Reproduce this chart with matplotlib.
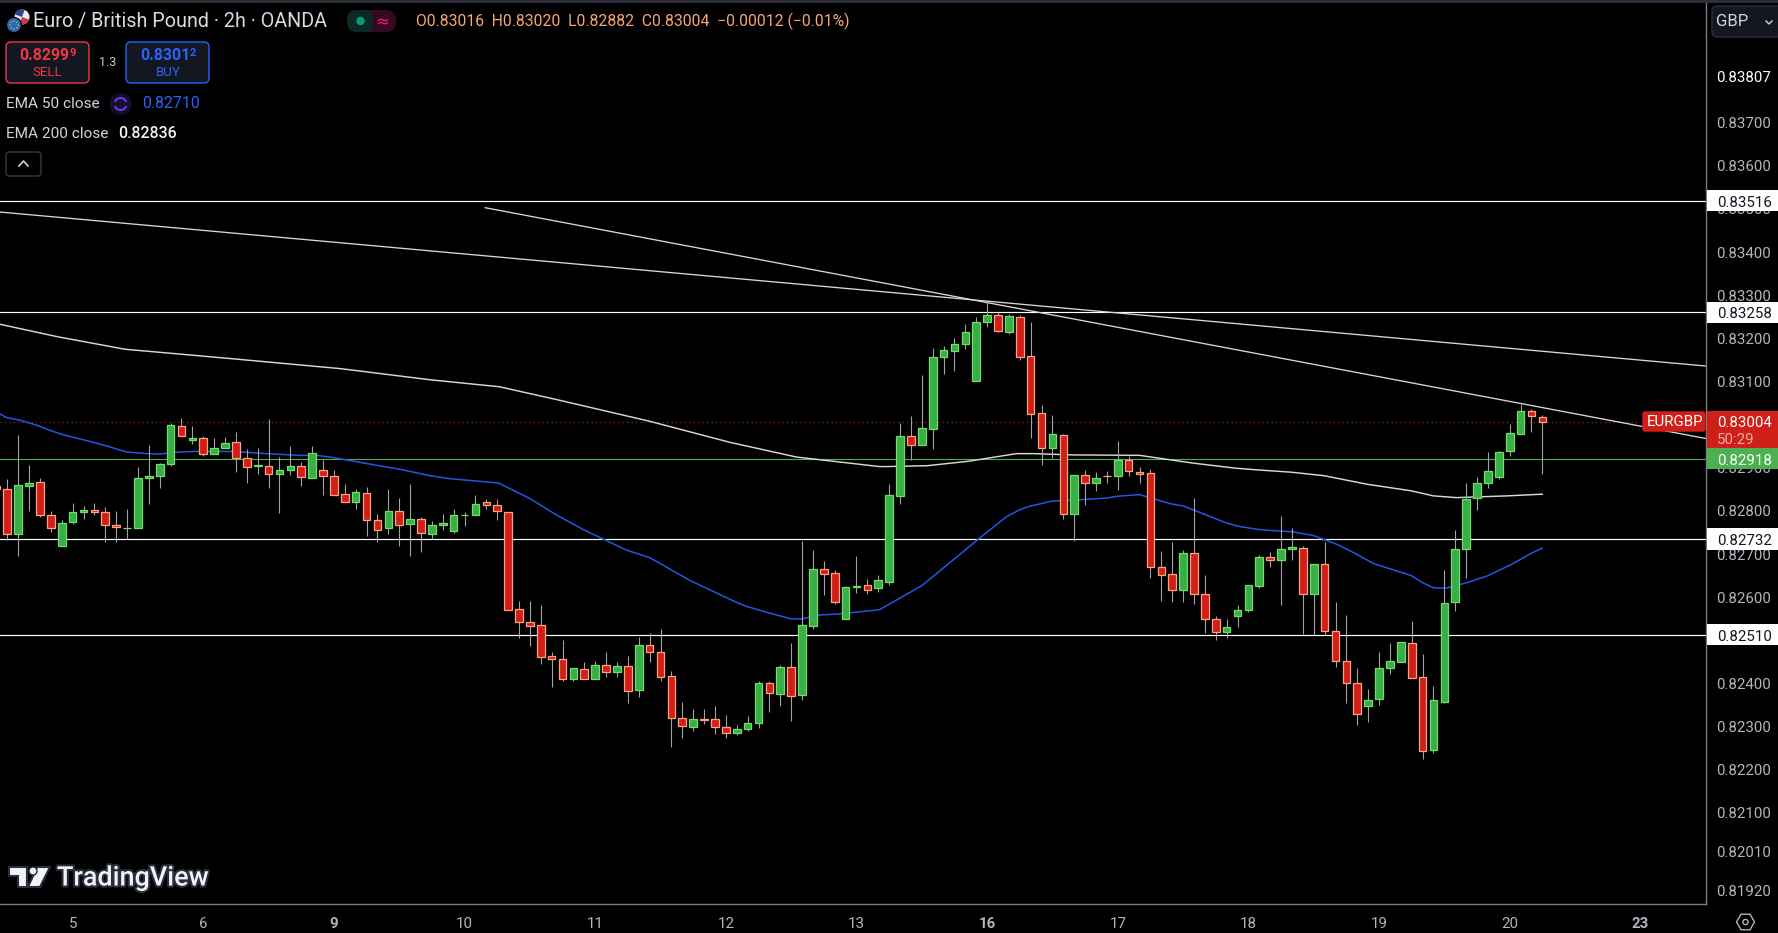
import numpy as np
import matplotlib
matplotlib.use("Agg")
import matplotlib.pyplot as plt
from matplotlib.patches import Rectangle, FancyBboxPatch, Circle, Polygon, RegularPolygon, Wedge
from matplotlib.transforms import ScaledTranslation
import matplotlib.patheffects as pe

plt.rcParams['font.family'] = ['Roboto', 'DejaVu Sans']

# 2h candles, prices in 1/100000, first one is cut off by the left edge
opens = [82855,
    82848,82743,82856,82864,82788,82717,82771,82794,82799,82795,
    82764,82757,82757,82873,82877,82905,82994,82961,82966,82928,
    82944,82957,82919,82902,82901,82882,82891,82901,82873,82892,
    82878,82836,82819,82839,82776,82757,82797,82766,82778,82743,
    82764,82750,82787,82787,82818,82812,82795,82570,82540,82533,
    82461,82454,82407,82431,82407,82440,82423,82438,82382,82487,
    82470,82415,82317,82296,82315,82315,82297,82282,82291,82305,
    82398,82372,82436,82370,82530,82663,82653,82546,82620,82625,
    82618,82632,82831,82971,82949,82988,83153,83169,83183,83099,
    83234,83251,83213,83246,83156,83024,82944,82973,82791,82880,
    82861,82879,82877,82915,82887,82885,82667,82651,82615,82700,
    82605,82547,82516,82553,82567,82622,82690,82683,82708,82711,
    82604,82674,82519,82449,82398,82344,82361,82432,82446,82491,
    82412,82243,82354,82585,82710,82826,82861,82875,82935,82975,
    83028,83016]
highs = [82855,
    82872,82974,82904,82873,82798,82777,82816,82809,82816,82807,
    82798,82802,82900,82950,82908,83001,83013,82994,82971,82967,
    82969,82981,82941,82944,83011,82923,82948,82911,82948,82916,
    82893,82860,82849,82852,82791,82849,82828,82860,82784,82774,
    82791,82802,82795,82835,82825,82825,82795,82589,82589,82578,
    82471,82497,82433,82448,82450,82469,82446,82462,82506,82515,
    82524,82427,82355,82337,82337,82346,82323,82300,82321,82404,
    82404,82441,82492,82728,82707,82682,82661,82624,82693,82640,
    82649,82860,83001,83018,83113,83174,83180,83198,83231,83246,
    83282,83258,83254,83252,83235,83043,83020,82976,82880,82893,
    82888,82890,82960,82925,82900,82895,82705,82726,82707,82828,
    82649,82554,82547,82578,82626,82696,82703,82786,82758,82717,
    82674,82724,82585,82557,82434,82385,82471,82490,82493,82541,
    82466,82392,82661,82754,82862,82876,82934,82937,82999,83045,
    83033,83020]
lows = [82847,
    82730,82692,82798,82784,82749,82717,82768,82779,82788,82726,
    82726,82732,82757,82814,82851,82902,82970,82953,82925,82928,
    82944,82888,82862,82883,82851,82793,82881,82856,82873,82835,
    82835,82817,82802,82740,82726,82744,82717,82693,82703,82732,
    82754,82747,82763,82787,82802,82777,82567,82503,82485,82443,
    82390,82402,82402,82407,82407,82413,82413,82353,82365,82448,
    82404,82251,82270,82286,82304,82279,82270,82277,82286,82293,
    82330,82346,82311,82360,82524,82603,82582,82546,82608,82605,
    82610,82626,82814,82916,82949,82941,83115,83122,83173,83099,
    83224,83213,83208,83147,82967,82904,82920,82779,82728,82812,
    82844,82862,82846,82879,82862,82642,82589,82587,82585,82582,
    82515,82497,82503,82529,82564,82619,82668,82578,82684,82513,
    82510,82510,82436,82351,82300,82307,82348,82418,82446,82409,
    82223,82235,82351,82566,82642,82800,82851,82872,82925,82975,
    82981,82882]
closes = [82847,
    82743,82857,82862,82787,82757,82769,82795,82799,82794,82764,
    82759,82758,82873,82878,82906,82996,82970,82966,82928,82943,
    82954,82921,82900,82903,82882,82892,82901,82875,82931,82879,
    82835,82817,82841,82775,82754,82797,82764,82778,82745,82764,
    82769,82788,82788,82813,82811,82796,82567,82539,82530,82458,
    82453,82408,82433,82408,82440,82423,82438,82379,82487,82470,
    82412,82317,82298,82315,82312,82296,82282,82292,82306,82398,
    82375,82436,82368,82533,82663,82652,82585,82621,82623,82615,
    82637,82834,82971,82949,82989,83154,83170,83184,83211,83235,
    83251,83214,83248,83155,83021,82942,82975,82789,82880,82861,
    82873,82877,82915,82889,82883,82667,82648,82613,82700,82604,
    82546,82516,82528,82568,82625,82690,82683,82709,82713,82604,
    82674,82518,82449,82398,82326,82359,82433,82449,82493,82409,
    82240,82359,82584,82709,82825,82862,82889,82933,82977,83028,
    83017,83004]

# moving averages, read at the candle index given
ema50_x = [-0.7,-0.1,1.2,2.7,3.9,5.1,7,9.1,10.9,12.8,14,15.5,17.1,20.7,23.8,26.8,28.4,29.9,31.7,33.9,36,38.8,40.6,
    41.9,45.1,48,50.5,52.9,56.9,59,62.7,67,67.9,69.9,72,73,74.6,76.2,80.1,
    81.7,84,86.9,89.3,91.8,93,93.9,96,97.9,101,101.9,104,106.8,108.1,112,113.2,115,
    116,118,120,122.1,123.7,125.5,127,129,129.9,131,132.1,134.1,136,138.3,139.9,141]
ema50 = [83022,83014,83007,82996,82984,82974,82962,82948,82934,82930,82929,82933,82935,82935,82930,82926,82926,82921,82913,82903,82894,82879,82872,
    82869,82862,82826,82787,82754,82706,82689,82636,82585,82576,82561,82547,82547,82556,82558,82568,
    82591,82624,82684,82734,82784,82800,82808,82820,82822,82827,82831,82835,82814,82808,82769,82761,82754,
    82752,82749,82740,82720,82700,82675,82663,82647,82632,82619,82618,82631,82647,82675,82698,82711]
ema200_x = [-0.7,4.6,10.8,20.2,30.6,38.9,45.2,50.5,59,66.4,72.5,80.1,80.8,84.5,88.2,92.7,94.2,97.9,104,108.9,112.9,115,117.9,120.9,124.9,128.9,131,133.1,137.7,141]
ema200 = [83230,83201,83172,83151,83127,83101,83085,83055,83005,82956,82922,82900,82900,82902,82912,82930,82930,82927,82926,82908,82896,82892,82887,82879,82859,82844,82832,82828,82832,82836]

# drawn trend lines: start index, end index, start price, end price
trend_a = (-0.67, 156.03, 83490, 83133)
trend_b = (43.9, 156.03, 83500, 82965)

levels = [0.83516, 0.83258, 0.82732, 0.82510]
last_price = 0.83004
green_level = 0.82918

price_ticks = [0.83807, 0.83700, 0.83600, 0.83500, 0.83400, 0.83300, 0.83200, 0.83100, 0.83000,
               0.82900, 0.82800, 0.82700, 0.82600, 0.82400, 0.82300, 0.82200, 0.82100, 0.82010, 0.81920]
price_tick_labels = ['0.83807', '0.83700', '0.83600', '0.83500', '0.83400', '0.83300', '0.83200', '0.83100', '0.83000',
                     '0.82900', '0.82800', '0.82700', '0.82600', '0.82400', '0.82300', '0.82200', '0.82100', '0.82010', '0.81920']
day_ticks = [6, 18, 30, 42, 54, 66, 78, 90, 102, 114, 126, 138, 150]
day_labels = ['5', '6', '9', '10', '11', '12', '13', '16', '17', '18', '19', '20', '23']
monday_labels = ['9', '16', '23']

RED = '#cf1f18'
RED_EDGE = '#ffa27e'
GREEN = '#39ad48'
GREEN_EDGE = '#6fe05f'
WICK = '#a3a3a3'
AXIS = '#787b86'
TXT = '#b2b5be'

fig = plt.figure(figsize=(17.78, 9.33), dpi=100, facecolor='black')
ax = fig.add_axes([0, 1 - 904 / 933, 1706 / 1778, 904 / 933], facecolor='black')

o = np.array(opens) / 1e5
h = np.array(highs) / 1e5
l = np.array(lows) / 1e5
c = np.array(closes) / 1e5
idx = np.arange(len(o)) - 1
up = c >= o

for lev in levels:
    ax.axhline(lev, color='white', lw=0.85, zorder=1)
ax.axhline(green_level, color='#4caf50', lw=0.8, zorder=1)
ax.plot([-0.67, 150.0], [last_price, last_price], color='#c2272d', lw=0.8, ls=(0, (1, 3)), zorder=1)

ax.plot(trend_a[:2], np.array(trend_a[2:]) / 1e5, color='#d8d8d8', lw=0.95, zorder=2)
ax.plot(trend_b[:2], np.array(trend_b[2:]) / 1e5, color='#d8d8d8', lw=0.95, zorder=2)
ax.plot(ema200_x, np.array(ema200) / 1e5, color='#d8d8d8', lw=1.05, zorder=2)
ax.plot(ema50_x, np.array(ema50) / 1e5, color='#2257e6', lw=1.1, zorder=2)

ax.vlines(idx, l, h, color=WICK, lw=0.8, zorder=3)
bottoms = np.minimum(o, c)
heights = np.abs(c - o)
ax.bar(idx[up], heights[up], bottom=bottoms[up], width=0.7, color=GREEN, edgecolor=GREEN_EDGE, linewidth=0.9, zorder=4)
ax.bar(idx[~up], heights[~up], bottom=bottoms[~up], width=0.7, color=RED, edgecolor=RED_EDGE, linewidth=0.9, zorder=4)

ax.set_xlim(-0.67, 156.03)
ax.set_ylim(0.81886, 0.839815)
for s in ['top', 'left']:
    ax.spines[s].set_visible(False)
ax.spines['right'].set_color(AXIS)
ax.spines['bottom'].set_color(AXIS)
ax.spines['right'].set_linewidth(1.0)
ax.spines['bottom'].set_linewidth(1.0)

ax.yaxis.tick_right()
ax.set_yticks(price_ticks)
ax.set_yticklabels(price_tick_labels, fontsize=10.8, color=TXT)
ax.tick_params(axis='y', length=0, pad=7.5)
ax.yaxis.get_ticklabels()[0].set_color('white')
nudge = ScaledTranslation(0, -1.2 / 100, fig.dpi_scale_trans)
for t in ax.get_yticklabels():
    t.set_transform(t.get_transform() + nudge)
ax.set_xticks(day_ticks)
ax.set_xticklabels(day_labels, fontsize=10.8, color=TXT)
ax.tick_params(axis='x', length=0, pad=9)
for t in ax.get_xticklabels():
    if t.get_text() in monday_labels:
        t.set_fontweight('bold')


def price_tag(price, text, fc, tc, height=0.00049):
    xt = ax.get_yaxis_transform()
    ax.add_patch(Rectangle((1.0005, price - height / 2), 0.0415, height, transform=xt, fc=fc, ec='none',
                           clip_on=False, zorder=6))
    ax.text(1.0066, price - 0.00004, text, transform=xt, color=tc, fontsize=10.8, va='center', ha='left', zorder=7)


for lev in levels:
    price_tag(lev, '%.5f' % lev, 'white', '#131722')
xt = ax.get_yaxis_transform()
ax.add_patch(Rectangle((1.0005, 0.82938), 0.0415, 0.00091, transform=xt, fc=RED, ec='none', clip_on=False, zorder=6))
ax.text(1.0066, 0.83001, '%.5f' % last_price, transform=xt, color='white', fontsize=10.8, va='center', zorder=7)
ax.text(1.0066, 0.82961, '50:29', transform=xt, color='#f2a9a5', fontsize=10.8, va='center', zorder=7)
price_tag(green_level, '%.5f' % green_level, '#4caf50', 'white')

# everything around the chart, in screen pixels
ui = fig.add_axes([0, 0, 1, 1], facecolor='none', zorder=10)
ui.set_xlim(0, 1778)
ui.set_ylim(933, 0)
ui.axis('off')

ui.add_patch(Rectangle((0, 0), 1778, 2.5, fc='#2a2e39', ec='none'))

# flags
ui.add_patch(Circle((22, 17), 7.5, fc='#e8e8ee', ec='none'))
ui.add_patch(Wedge((22, 17), 7.5, 20, 110, fc='#d0394a', ec='none'))
ui.add_patch(Wedge((22, 17), 7.5, 200, 290, fc='#33447f', ec='none'))
ui.add_patch(Circle((14, 25), 7.5, fc='#2a66b8', ec='black', lw=0.8))
for a in np.linspace(0, 2 * np.pi, 8, endpoint=False):
    ui.add_patch(Circle((14 + 4 * np.cos(a), 25 + 4 * np.sin(a)), 0.7, fc='#f5c400', ec='none'))

ui.text(33, 22, 'Euro / British Pound · 2h · OANDA', color='#d8dae0', fontsize=14.2, va='center')

ui.add_patch(FancyBboxPatch((347, 10), 49, 22, boxstyle='round,pad=0,rounding_size=10', fc='#35091f', ec='none'))
ui.add_patch(FancyBboxPatch((347, 10), 26, 22, boxstyle='round,pad=0,rounding_size=10', fc='#0b2a26', ec='none'))
ui.add_patch(Rectangle((362, 10), 9, 22, fc='#0b2a26', ec='none'))
ui.add_patch(Circle((360.5, 21), 4.2, fc='#089981', ec='none'))
ui.text(382, 21, '≈', color='#f7197a', fontsize=12, ha='center', va='center', family='DejaVu Sans')

ui.text(416, 21, 'O0.83016  H0.83020  L0.82882  C0.83004  −0.00012 (−0.01%)', color='#f7a672', fontsize=11.3, va='center')

ui.add_patch(FancyBboxPatch((6, 42), 83, 41, boxstyle='round,pad=0,rounding_size=5', fc='#131722', ec='#f23645', lw=1))
ui.text(19, 55, '0.8299', color='#f23645', fontsize=11.4, va='center', fontweight='bold')
ui.text(69, 53, '9', color='#f23645', fontsize=8, va='center', fontweight='bold')
ui.text(47, 72, 'SELL', color='#f23645', fontsize=9.5, va='center', ha='center')
ui.text(108, 62, '1.3', color='#c8cad0', fontsize=9, va='center', ha='center')
ui.add_patch(FancyBboxPatch((126, 42), 83, 41, boxstyle='round,pad=0,rounding_size=5', fc='#131722', ec='#2962ff', lw=1))
ui.text(140, 55, '0.8301', color='#2962ff', fontsize=11.4, va='center', fontweight='bold')
ui.text(190, 53, '2', color='#2962ff', fontsize=8, va='center', fontweight='bold')
ui.text(168, 72, 'BUY', color='#2962ff', fontsize=9.5, va='center', ha='center')

ui.text(6, 104, 'EMA 50 close', color='#d1d4dc', fontsize=11.1, va='center')
ui.add_patch(Circle((120.5, 104), 11, fc='#14102a', ec='none'))
ui.add_patch(Wedge((120.5, 104), 7, 20, 160, width=2, fc='#6a35f0', ec='none'))
ui.add_patch(Wedge((120.5, 104), 7, 200, 340, width=2, fc='#6a35f0', ec='none'))
ui.text(142, 104, '0.82710', color='#2962ff', fontsize=11.4, va='center')
ui.text(6, 134, 'EMA 200 close', color='#d1d4dc', fontsize=11.1, va='center')
ui.text(118, 134, '0.82836', color='#f0f3fa', fontsize=11.4, va='center', fontweight='medium')

ui.add_patch(FancyBboxPatch((6, 152), 35, 24, boxstyle='round,pad=0,rounding_size=3', fc='black', ec='#363a45', lw=1))
ui.plot([19, 23.5, 28], [166, 161, 166], color='#d1d4dc', lw=1.2)

ui.add_patch(FancyBboxPatch((1712, 6), 70, 31, boxstyle='round,pad=0,rounding_size=5', fc='#131722', ec='#2a2e39', lw=1))
ui.text(1716, 21, 'GBP', color='#d1d4dc', fontsize=12, va='center')
ui.plot([1766, 1769, 1772], [21, 24, 21], color='#d1d4dc', lw=1)

ui.add_patch(FancyBboxPatch((1643, 412), 62, 19, boxstyle='round,pad=0,rounding_size=2', fc=RED, ec=RED, lw=1))
ui.text(1647, 422, 'EURGBP', color='white', fontsize=10.8, va='center')

ui.add_patch(RegularPolygon((1745.5, 922), 6, radius=9, orientation=np.pi / 6, fc='none', ec='#b2b5be', lw=1))
ui.add_patch(Circle((1745.5, 922), 2.6, fc='none', ec='#b2b5be', lw=1))

# logo
halo = [pe.withStroke(linewidth=3, foreground='#2a2e39')]
for poly in ([(9, 867), (27, 867), (27, 887), (18, 887), (18, 876), (9, 876)],
             [(37, 867), (50, 867), (40, 887), (28, 887)]):
    ui.add_patch(Polygon(poly, fc='#f0f3fa', ec='#2a2e39', lw=1.5))
ui.add_patch(Circle((33, 871), 4, fc='#f0f3fa', ec='#2a2e39', lw=1))
ui.text(57, 878, 'TradingView', color='#f0f3fa', fontsize=19.4, va='center', fontweight='medium', path_effects=halo)

fig.savefig('out.png', dpi=100, facecolor='black')
